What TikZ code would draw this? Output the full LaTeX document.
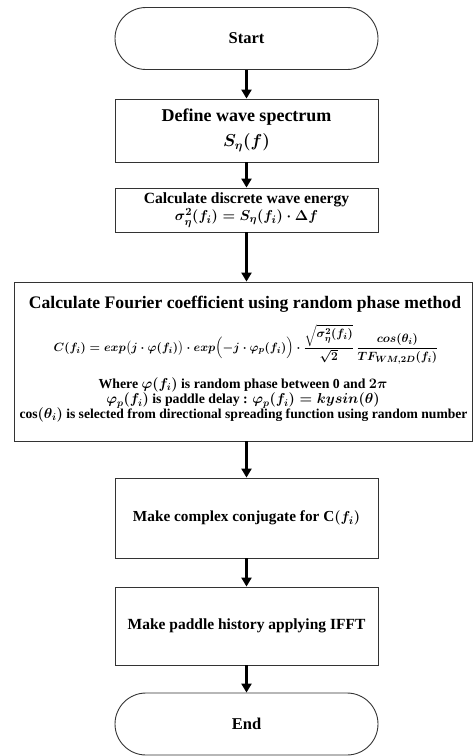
\documentclass[tikz,border=0pt]{standalone}
\usepackage{fontspec}
\setmainfont{Liberation Serif}
\usepackage{amsmath}
\usetikzlibrary{arrows.meta}
\newsavebox{\FourierBox}
\newcommand{\bigmath}[1]{{\fontsize{14.5}{16}\selectfont\boldmath$#1$}}
\tikzset{
  box/.style={draw=black!80, line width=0.9pt, rectangle, inner sep=0pt, align=center, font=\bfseries\fontsize{15.5}{18}\selectfont},
  term/.style={box, rounded corners=31pt, minimum width=263pt, minimum height=62pt, font=\bfseries\fontsize{16.5}{19}\selectfont},
  flow/.style={line width=2.6pt, -{Triangle[width=10pt,length=9pt]}},
  txt/.style={inner sep=0pt, align=center, font=\bfseries}
}
\begin{document}
\begin{tikzpicture}[x=1pt,y=-1pt]
\useasboundingbox (0,0) rectangle (474,756);
\sbox{\FourierBox}{\fontsize{12.5}{15}\selectfont\boldmath$\displaystyle C(f_i) = exp\bigl(j\cdot \varphi(f_i)\bigr)\cdot exp\Bigl(-j\cdot\varphi_p(f_i)\Bigr)\cdot \frac{\sqrt{\sigma_{\eta}^{2}(f_i)}}{\sqrt{2}}\,\frac{cos(\theta_i)}{TF_{WM,2D}(f_i)}$}
\node[term] (start) at (246.5,38.5) {Start};
\node[box, minimum width=263pt, minimum height=63pt, font=\bfseries\fontsize{18}{25}\selectfont] (define) at (246.5,130.5) {Define wave spectrum\\ {\boldmath$S_{\eta}(f)$}};
\node[box, minimum width=263pt, minimum height=44pt, font=\bfseries\fontsize{15.6}{18}\selectfont] (energy) at (246.5,210) {Calculate discrete wave energy\\[-1pt] {\boldmath$\sigma_{\eta}^{2}(f_i) = S_{\eta}(f_i)\cdot \Delta f$}};
\node[box, minimum width=458pt, minimum height=159pt] (fourier) at (243,361.5) {};
\node[txt, font=\bfseries\fontsize{17.6}{20}\selectfont] (ftitle) at (245,304) {Calculate Fourier coefficient using random phase method};
\node[txt] (fformula) at (246,344) {\usebox{\FourierBox}};
\node[txt, font=\bfseries\fontsize{13.8}{15}\selectfont] (fwhere) at (243,384.5) {Where \bigmath{\varphi(f_i)} is random phase between 0 and {\boldmath$2\pi$}};
\node[txt, font=\bfseries\fontsize{13.8}{15}\selectfont] (fdelay) at (243,400.5) {\bigmath{\varphi_p(f_i)} is paddle delay : \bigmath{\varphi_p(f_i) = kysin(\theta)}};
\node[txt, font=\bfseries\fontsize{13.6}{16}\selectfont] (fcos) at (243.5,415) {{\boldmath$\cos(\theta_i)$} is selected from directional spreading function using random number};
\node[box, minimum width=263pt, minimum height=80pt, font=\bfseries\fontsize{15.3}{18}\selectfont] (conj) at (246.5,518) {Make complex conjugate for {\boldmath$\mathrm{C}(f_i)$}};
\node[box, minimum width=263pt, minimum height=78pt, font=\bfseries\fontsize{15.5}{18}\selectfont] (paddle) at (246.5,626) {Make paddle history applying IFFT};
\node[term] (end) at (246.5,724) {End};
\draw[flow] (start) -- (define);
\draw[flow] (define) -- (energy);
\draw[flow] (energy.south) -- (energy.south |- fourier.north);
\draw[flow] (energy.south |- fourier.south) -- (conj.north);
\draw[flow] (conj) -- (paddle);
\draw[flow] (paddle) -- (end);
\end{tikzpicture}
\end{document}
